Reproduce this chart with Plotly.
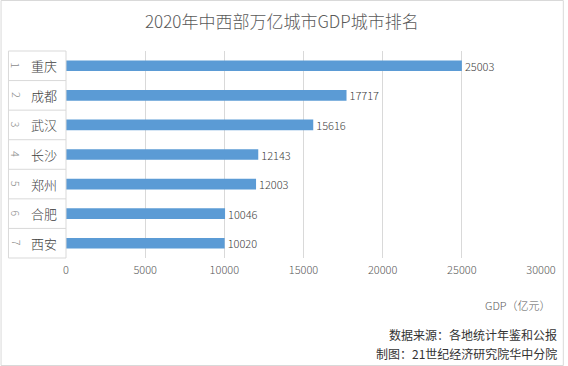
import plotly.graph_objects as go

ranks = ["1", "2", "3", "4", "5", "6", "7"]
cities = ["重庆", "成都", "武汉", "长沙", "郑州", "合肥", "西安"]
gdp = [25003, 17717, 15616, 12143, 12003, 10046, 10020]
x_ticks = [0, 5000, 10000, 15000, 20000, 25000, 30000]

W, H = 568, 366
L, R, T, B = 66, 545, 51, 258  # plot area in pixels
pw, ph = R - L, B - T

def px(p):
    return (p - L) / pw

def py(p):
    return (B - p) / ph

FONT = "Noto Sans CJK SC, Microsoft YaHei, sans-serif"

fig = go.Figure()
fig.add_trace(go.Bar(
    x=gdp, y=cities, orientation="h",
    marker=dict(color="#5b9bd5", line=dict(width=0)),
    width=0.36,
    text=[str(v) for v in gdp], textposition="outside",
    constraintext="none",
    textfont=dict(size=11, color="#404040", family=FONT, weight=300),
    cliponaxis=False, hoverinfo="skip",
))

shapes = []
n = len(cities)
line_c = "#d9d9d9"
for k in range(n + 1):
    yy = 1 - k / n
    shapes.append(dict(type="line", xref="paper", yref="paper",
                       x0=px(8), x1=px(66), y0=yy, y1=yy,
                       line=dict(color=line_c, width=1)))
for xp in [8, 66]:
    shapes.append(dict(type="line", xref="paper", yref="paper",
                       x0=px(xp), x1=px(xp), y0=0, y1=1,
                       line=dict(color=line_c, width=1)))
shapes.append(dict(type="rect", xref="paper", yref="paper",
                   x0=px(0.5), x1=px(W - 0.5), y0=py(H - 0.5), y1=py(0.5),
                   line=dict(color="#d9d9d9", width=1), fillcolor="rgba(0,0,0,0)"))

annotations = []
for k, (r, c) in enumerate(zip(ranks, cities)):
    yc = 1 - (k + 0.5) / n
    annotations.append(dict(xref="paper", yref="paper", x=px(16), y=yc,
                            text=r, showarrow=False, textangle=90,
                            font=dict(size=11, color="#8c8c8c", family=FONT, weight=300),
                            xanchor="center", yanchor="middle"))
    annotations.append(dict(xref="paper", yref="paper", x=px(44), y=yc,
                            text=c, showarrow=False,
                            font=dict(size=13, color="#404040", family=FONT, weight=300),
                            xanchor="center", yanchor="middle"))

annotations.append(dict(xref="paper", yref="paper", x=px(284), y=py(20),
                        text="2020年中西部万亿城市GDP城市排名", showarrow=False,
                        font=dict(size=17, color="#595959", family=FONT, weight=300),
                        xanchor="center", yanchor="middle"))
annotations.append(dict(xref="paper", yref="paper", x=px(557), y=py(305),
                        text="GDP（亿元）", showarrow=False,
                        font=dict(size=11, color="#595959", family=FONT, weight=300),
                        xanchor="right", yanchor="middle"))
annotations.append(dict(xref="paper", yref="paper", x=px(563), y=py(334),
                        text="数据来源：各地统计年鉴和公报", showarrow=False,
                        font=dict(size=12, color="#333333", family=FONT),
                        xanchor="right", yanchor="middle"))
annotations.append(dict(xref="paper", yref="paper", x=px(563), y=py(353),
                        text="制图：21世纪经济研究院华中分院", showarrow=False,
                        font=dict(size=12, color="#333333", family=FONT),
                        xanchor="right", yanchor="middle"))

fig.update_layout(
    width=W, height=H,
    margin=dict(l=L, r=W - R, t=T, b=H - B, pad=0),
    paper_bgcolor="white", plot_bgcolor="white",
    showlegend=False,
    font=dict(family=FONT),
    shapes=shapes, annotations=annotations,
    xaxis=dict(range=[0, 30000], tickvals=x_ticks,
               ticktext=[str(v) for v in x_ticks],
               showgrid=True, gridcolor="#d9d9d9", gridwidth=1,
               zeroline=False, showline=False, ticks="",
               tickfont=dict(size=11, color="#595959", family=FONT, weight=300),
               ticklabelstandoff=4, fixedrange=True),
    yaxis=dict(categoryorder="array", categoryarray=cities, autorange="reversed",
               showticklabels=False, showgrid=False, zeroline=False,
               showline=False, ticks="", fixedrange=True),
)

fig.write_html("out.html", config={"displayModeBar": False},
               post_script="document.body.style.margin='0';document.body.style.overflow='hidden';")
